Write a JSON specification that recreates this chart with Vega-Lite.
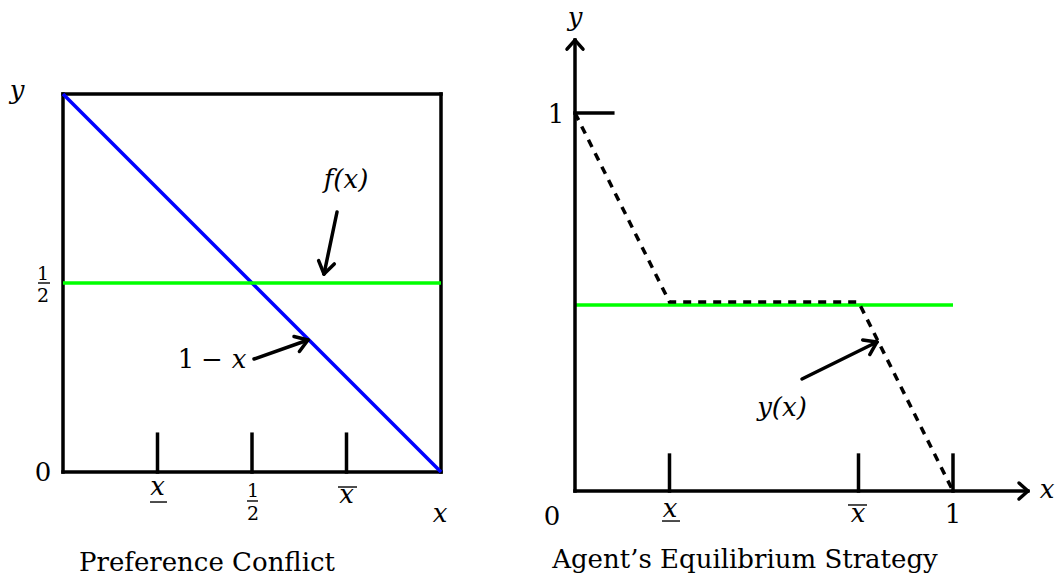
{
  "$schema": "https://vega.github.io/schema/vega-lite/v6.json",
  "padding": 0,
  "spacing": 0,
  "background": "white",
  "config": {"view": {"stroke": null}, "text": {"font": "DejaVu Serif", "color": "black", "baseline": "alphabetic", "align": "center"}},
  "hconcat": [
    {
      "width": 520,
      "height": 586,
      "encoding": {
        "x": {"field": "x", "type": "quantitative", "scale": {"domain": [-0.16667, 1.20899], "nice": false, "zero": false}, "axis": null},
        "y": {"field": "y", "type": "quantitative", "scale": {"domain": [-0.30159, 1.24868], "nice": false, "zero": false}, "axis": null}
      },
      "layer": [
        {
          "data": {"values": [
            {"x": 0, "y": 0, "x2": 1, "y2": 0},
            {"x": 1, "y": 0, "x2": 1, "y2": 1},
            {"x": 1, "y": 1, "x2": 0, "y2": 1},
            {"x": 0, "y": 1, "x2": 0, "y2": 0},
            {"x": 0.25, "y": 0, "x2": 0.25, "y2": 0.1},
            {"x": 0.5, "y": 0, "x2": 0.5, "y2": 0.1},
            {"x": 0.75, "y": 0, "x2": 0.75, "y2": 0.1}
          ]},
          "mark": {"type": "rule", "color": "black", "strokeWidth": 3.5, "strokeCap": "square"},
          "encoding": {"x2": {"field": "x2"}, "y2": {"field": "y2"}}
        },
        {
          "data": {"values": [{"x": 0, "y": 1, "x2": 1, "y2": 0}]},
          "mark": {"type": "rule", "color": "#0000ff", "strokeWidth": 3.5},
          "encoding": {"x2": {"field": "x2"}, "y2": {"field": "y2"}}
        },
        {
          "data": {"values": [{"x": 0, "y": 0.5, "x2": 1, "y2": 0.5}]},
          "mark": {"type": "rule", "color": "#00ff00", "strokeWidth": 3.5},
          "encoding": {"x2": {"field": "x2"}, "y2": {"field": "y2"}}
        },
        {
          "data": {"values": [
            {"x": 0.7249, "y": 0.6878, "x2": 0.6905, "y2": 0.5238},
            {"x": 0.7177, "y": 0.5505, "x2": 0.6905, "y2": 0.5238},
            {"x": 0.6762, "y": 0.5593, "x2": 0.6905, "y2": 0.5238},
            {"x": 0.5053, "y": 0.2989, "x2": 0.6481, "y2": 0.3492},
            {"x": 0.6254, "y": 0.3188, "x2": 0.6481, "y2": 0.3492},
            {"x": 0.6111, "y": 0.3585, "x2": 0.6481, "y2": 0.3492}
          ]},
          "mark": {"type": "rule", "color": "black", "strokeWidth": 3.5, "strokeCap": "round"},
          "encoding": {"x2": {"field": "x2"}, "y2": {"field": "y2"}}
        },
        {
          "data": {"values": [
            {"x": -0.0661, "y": 0.5, "x2": -0.0344, "y2": 0.5},
            {"x": 0.4868, "y": -0.0767, "x2": 0.5159, "y2": -0.0767},
            {"x": 0.2302, "y": -0.0794, "x2": 0.2751, "y2": -0.0794},
            {"x": 0.7275, "y": -0.0397, "x2": 0.7778, "y2": -0.0397}
          ]},
          "mark": {"type": "rule", "color": "black", "strokeWidth": 1.4},
          "encoding": {"x2": {"field": "x2"}, "y2": {"field": "y2"}}
        },
        {
          "data": {"values": [
            {"x": -0.1217, "y": 0.9868, "t": "y"},
            {"x": 0.25, "y": -0.0608, "t": "x"},
            {"x": 0.75, "y": -0.082, "t": "x"},
            {"x": 0.9974, "y": -0.1323, "t": "x"},
            {"x": 0.7487, "y": 0.7513, "t": "f(x)"},
            {"x": 0.4656, "y": 0.2751, "t": "x"}
          ]},
          "mark": {"type": "text", "fontSize": 26, "fontStyle": "italic"},
          "encoding": {"text": {"field": "t"}}
        },
        {
          "data": {"values": [
            {"x": -0.0529, "y": -0.0238, "t": "0"},
            {"x": 0.3254, "y": 0.2751, "t": "1"},
            {"x": 0.3942, "y": 0.2751, "t": "−"}
          ]},
          "mark": {"type": "text", "fontSize": 26},
          "encoding": {"text": {"field": "t"}}
        },
        {
          "data": {"values": [
            {"x": -0.0529, "y": 0.5079, "t": "1"},
            {"x": -0.0529, "y": 0.4497, "t": "2"},
            {"x": 0.5026, "y": -0.0661, "t": "1"},
            {"x": 0.5026, "y": -0.127, "t": "2"}
          ]},
          "mark": {"type": "text", "fontSize": 19},
          "encoding": {"text": {"field": "t"}}
        },
        {
          "data": {"values": [{"x": 0.381, "y": -0.2619, "t": "Preference Conflict"}]},
          "mark": {"type": "text", "fontSize": 26},
          "encoding": {"text": {"field": "t"}}
        }
      ]
    },
    {
      "width": 543,
      "height": 586,
      "encoding": {
        "x": {"field": "x", "type": "quantitative", "scale": {"domain": [-0.1455, 1.29101], "nice": false, "zero": false}, "axis": null},
        "y": {"field": "y", "type": "quantitative", "scale": {"domain": [-0.25132, 1.29894], "nice": false, "zero": false}, "axis": null}
      },
      "layer": [
        {
          "data": {"values": [{"x": 0, "y": 0.492, "x2": 1, "y2": 0.492}]},
          "mark": {"type": "rule", "color": "#00ff00", "strokeWidth": 3.5},
          "encoding": {"x2": {"field": "x2"}, "y2": {"field": "y2"}}
        },
        {
          "data": {"values": [
            {"x": 0, "y": 1},
            {"x": 0.25, "y": 0.5},
            {"x": 0.75, "y": 0.5},
            {"x": 1, "y": 0}
          ]},
          "mark": {"type": "line", "color": "black", "strokeWidth": 3.5, "strokeDash": [8, 7]},
          "encoding": {}
        },
        {
          "data": {"values": [
            {"x": 0, "y": 0, "x2": 0, "y2": 1.193},
            {"x": 0, "y": 0, "x2": 1.198, "y2": 0},
            {"x": 0.25, "y": 0, "x2": 0.25, "y2": 0.095},
            {"x": 0.75, "y": 0, "x2": 0.75, "y2": 0.095},
            {"x": 1, "y": 0, "x2": 1, "y2": 0.095},
            {"x": 0, "y": 1, "x2": 0.1, "y2": 1}
          ]},
          "mark": {"type": "rule", "color": "black", "strokeWidth": 3.5, "strokeCap": "square"},
          "encoding": {"x2": {"field": "x2"}, "y2": {"field": "y2"}}
        },
        {
          "data": {"values": [
            {"x": -0.0212, "y": 1.169, "x2": 0, "y2": 1.193},
            {"x": 0.0212, "y": 1.169, "x2": 0, "y2": 1.193},
            {"x": 1.1746, "y": 0.0212, "x2": 1.1984, "y2": 0},
            {"x": 1.1746, "y": -0.0212, "x2": 1.1984, "y2": 0},
            {"x": 0.6005, "y": 0.2963, "x2": 0.7989, "y2": 0.3942},
            {"x": 0.7798, "y": 0.3611, "x2": 0.7989, "y2": 0.3942},
            {"x": 0.7611, "y": 0.3992, "x2": 0.7989, "y2": 0.3942}
          ]},
          "mark": {"type": "rule", "color": "black", "strokeWidth": 3.5, "strokeCap": "round"},
          "encoding": {"x2": {"field": "x2"}, "y2": {"field": "y2"}}
        },
        {
          "data": {"values": [
            {"x": 0.2302, "y": -0.0794, "x2": 0.2778, "y2": -0.0794},
            {"x": 0.7222, "y": -0.037, "x2": 0.7725, "y2": -0.037}
          ]},
          "mark": {"type": "rule", "color": "black", "strokeWidth": 1.4},
          "encoding": {"x2": {"field": "x2"}, "y2": {"field": "y2"}}
        },
        {
          "data": {"values": [
            {"x": 0, "y": 1.2302, "t": "y"},
            {"x": 0.2513, "y": -0.0688, "t": "x"},
            {"x": 0.7487, "y": -0.082, "t": "x"},
            {"x": 1.2487, "y": -0.0185, "t": "x"},
            {"x": 0.5476, "y": 0.1984, "t": "y(x)"}
          ]},
          "mark": {"type": "text", "fontSize": 26, "fontStyle": "italic"},
          "encoding": {"text": {"field": "t"}}
        },
        {
          "data": {"values": [
            {"x": -0.0503, "y": 0.9735, "t": "1"},
            {"x": -0.0608, "y": -0.0899, "t": "0"},
            {"x": 1.0, "y": -0.0847, "t": "1"}
          ]},
          "mark": {"type": "text", "fontSize": 26},
          "encoding": {"text": {"field": "t"}}
        },
        {
          "data": {"values": [{"x": 0.4497, "y": -0.2037, "t": "Agent’s Equilibrium Strategy"}]},
          "mark": {"type": "text", "fontSize": 26},
          "encoding": {"text": {"field": "t"}}
        }
      ]
    }
  ]
}
